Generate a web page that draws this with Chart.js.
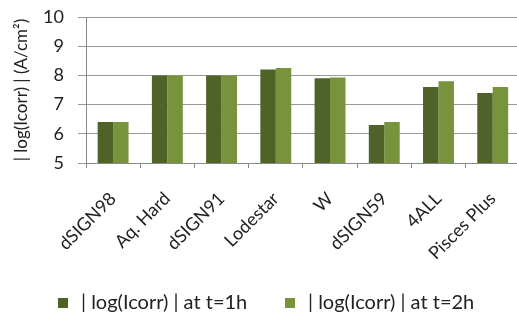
<!DOCTYPE html>
<html>
<head>
<meta charset="utf-8">
<script src="https://cdn.jsdelivr.net/npm/chart.js@4"></script>
<style>
  html, body { margin: 0; padding: 0; overflow: hidden; background: #fff; }
  #wrap { width: 528px; height: 313px; position: relative; }
</style>
</head>
<body>
<div id="wrap"><canvas id="corrChart"></canvas></div>
<script>
const categories = ["dSIGN98", "Aq. Hard", "dSIGN91", "Lodestar", "W", "dSIGN59", "4ALL", "Pisces Plus"];
const series1h = [6.4, 8.0, 8.0, 8.2, 7.9, 6.3, 7.6, 7.4];
const series2h = [6.4, 8.0, 8.0, 8.25, 7.93, 6.4, 7.8, 7.6];
const yTicks = [5, 6, 7, 8, 9, 10];

const fontFam = "Lato, 'Open Sans', sans-serif";

// legend drawn by hand so the spacing follows the original
const bottomLegend = {
  id: "bottomLegend",
  afterDraw(chart) {
    const c = chart.ctx;
    const startX = [58, 285];
    c.save();
    c.font = "20px " + fontFam;
    c.textBaseline = "middle";
    chart.data.datasets.forEach((ds, i) => {
      c.fillStyle = ds.backgroundColor;
      c.fillRect(startX[i], 298, 10, 10);
      c.fillStyle = "#222";
      c.fillText(ds.label, startX[i] + 23, 303);
    });
    c.restore();
  },
};

const ctx = document.getElementById("corrChart").getContext("2d");
const corrChart = new Chart(ctx, {
  type: "bar",
  data: {
    labels: categories,
    datasets: [
      {
        label: "| log(Icorr) | at t=1h",
        data: series1h,
        backgroundColor: "#4f6228",
      },
      {
        label: "| log(Icorr) | at t=2h",
        data: series2h,
        backgroundColor: "#77933c",
      },
    ],
  },
  options: {
    responsive: true,
    maintainAspectRatio: false,
    animation: false,
    devicePixelRatio: 1,
    layout: { padding: { top: 17, left: 0, right: 0, bottom: 30 } },
    datasets: {
      bar: { categoryPercentage: 0.57, barPercentage: 1.0 },
    },
    scales: {
      x: {
        afterFit: (axis) => {
          axis.height = 120;
        },
        grid: {
          offset: true,
          drawOnChartArea: false,
          color: "#888",
          tickLength: 5,
        },
        border: { color: "#888" },
        ticks: {
          color: "#222",
          font: { family: fontFam, size: 18 },
          maxRotation: 45,
          minRotation: 45,
          padding: 20,
        },
      },
      y: {
        min: 5,
        max: 10,
        afterBuildTicks: (axis) => {
          axis.ticks = yTicks.map((v) => ({ value: v }));
        },
        afterFit: (axis) => {
          axis.width = 86;
          axis.paddingTop = 0;
          axis.paddingBottom = 0;
        },
        grid: { color: "#999", tickLength: 8 },
        border: { color: "#888" },
        ticks: {
          color: "#222",
          font: { family: fontFam, size: 18 },
          padding: 14,
        },
        title: {
          display: true,
          text: "| log(Icorr) | (A/cm²)",
          color: "#222",
          font: { family: fontFam, size: 17 },
          padding: { top: 11, bottom: 0 },
        },
      },
    },
    plugins: {
      legend: { display: false },
      tooltip: { enabled: false },
    },
  },
  plugins: [bottomLegend],
});
</script>
</body>
</html>
